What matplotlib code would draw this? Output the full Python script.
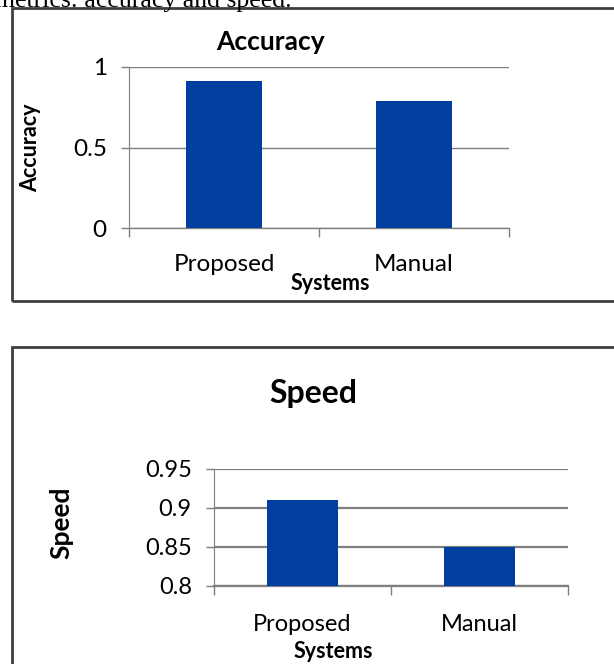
import matplotlib
matplotlib.use("Agg")
import matplotlib.pyplot as plt
from matplotlib.patches import Rectangle

W, H = 614, 664
DPI = 100

systems = ["Proposed", "Manual"]
accuracy = [0.91, 0.79]
speed = [0.91, 0.85]
acc_ticks = [0, 0.5, 1]
acc_tick_labels = ["0", "0.5", "1"]
speed_ticks = [0.8, 0.85, 0.9, 0.95]
speed_tick_labels = ["0.8", "0.85", "0.9", "0.95"]

BAR = "#003f9f"
GRID = "#7f7f7f"
BORDER = "#404040"
FONT = "Lato"

plt.rcParams["font.family"] = [FONT, "DejaVu Sans"]


def fx(x):
    return x / W


def fy(y):
    return 1 - y / H


def ax_rect(left, top, right, bottom):
    return [fx(left), fy(bottom), (right - left) / W, (bottom - top) / H]


fig = plt.figure(figsize=(W / DPI, H / DPI), dpi=DPI)

# caption fragment cut off at the top of the page
fig.text(fx(292), fy(7), "metrics: accuracy and speed.", ha="right", va="baseline",
         family="Liberation Serif", fontsize=18.5)

# chart frames (right side runs off the page)
fig.patches.append(Rectangle((fx(12), fy(301)), fx(640), (301 - 8) / H, transform=fig.transFigure,
                             fill=False, edgecolor=BORDER, linewidth=2))
fig.patches.append(Rectangle((fx(12), fy(700)), fx(640), (700 - 347) / H, transform=fig.transFigure,
                             fill=False, edgecolor=BORDER, linewidth=2))


def style_axes(ax, values, ylim, yticks, ylabels, grid_lw, lab_pad, fs):
    x = range(len(systems))
    ax.bar(x, values, width=0.40, color=BAR, zorder=3)
    ax.set_xlim(-0.5, len(systems) - 0.5)
    ax.set_ylim(*ylim)
    ax.set_yticks(yticks)
    ax.set_yticklabels(ylabels, fontsize=fs)
    ax.set_xticks([-0.5, 0.5, 1.5])
    ax.set_xticklabels([])
    ax.set_xticks(list(x), minor=True)
    ax.set_xticklabels(systems, minor=True, fontsize=fs)
    ax.tick_params(axis="x", which="major", length=6.5, width=1, color=GRID, direction="out")
    ax.tick_params(axis="x", which="minor", length=0, pad=lab_pad)
    ax.tick_params(axis="y", length=6, width=1, color=GRID, pad=10)
    ax.yaxis.grid(True, color=GRID, linewidth=grid_lw, zorder=0)
    for s in ["top", "right"]:
        ax.spines[s].set_visible(False)
    ax.spines["left"].set_color(GRID)
    ax.spines["bottom"].set_color(GRID)
    ax.spines["bottom"].set_linewidth(grid_lw)


ax1 = fig.add_axes(ax_rect(129, 66.7, 509, 228.3))
style_axes(ax1, accuracy, (0, 1), acc_ticks, acc_tick_labels, 1.0, 18.5, 17.5)
fig.text(fx(270), fy(42), "Accuracy", ha="center", va="center", fontsize=19, fontweight="bold")
fig.text(fx(31), fy(148), "Accuracy", ha="center", va="center", rotation=90, fontsize=15.5,
         fontweight="bold")
fig.text(fx(330), fy(284), "Systems", ha="center", va="center", fontsize=15.5, fontweight="bold")

ax2 = fig.add_axes(ax_rect(214, 468.7, 568, 585.7))
style_axes(ax2, speed, (0.8, 0.95), speed_ticks, speed_tick_labels, 1.6, 20.5, 17)
fig.text(fx(313), fy(393), "Speed", ha="center", va="center", fontsize=23, fontweight="bold")
fig.text(fx(61), fy(523), "Speed", ha="center", va="center", rotation=90, fontsize=19,
         fontweight="bold")
fig.text(fx(333), fy(652), "Systems", ha="center", va="center", fontsize=15.5, fontweight="bold")

fig.savefig("out.png", dpi=DPI)
